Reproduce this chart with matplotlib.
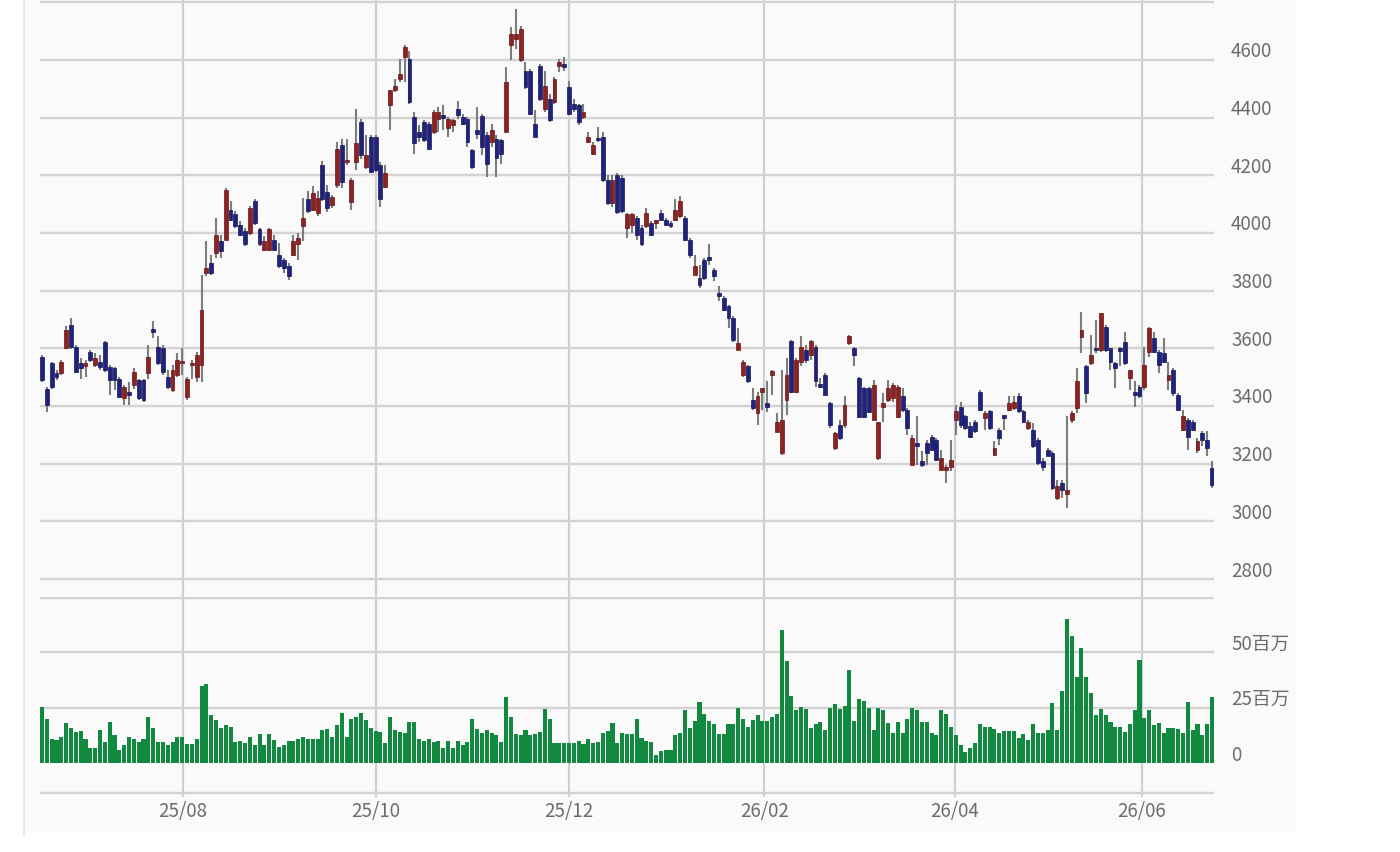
import matplotlib
matplotlib.use("Agg")
import matplotlib.pyplot as plt
from matplotlib.patches import Rectangle
from matplotlib.lines import Line2D
from matplotlib.transforms import offset_copy

plt.rcParams['font.family'] = ['Noto Sans CJK JP', 'DejaVu Sans']

# daily candles, oldest first (yen)
open_ = [3571, 3460, 3548, 3513, 3513, 3600, 3681, 3606, 3548, 3537,
         3588, 3542, 3553, 3623, 3536, 3530, 3495, 3426, 3449, 3472,
         3490, 3490, 3513, 3664, 3606, 3600, 3501, 3455, 3507, 3548,
         3431, 3542, 3501, 3542, 3861, 3896, 3930, 3971, 3977, 4081,
         4064, 4029, 4006, 4000, 4110, 4012, 3942, 3942, 3977, 3925,
         3907, 3884, 3925, 3960, 4023, 4116, 4081, 4070, 4234, 4142,
         4096, 4165, 4304, 4246, 4108, 4246, 4384, 4229, 4332, 4332,
         4234, 4159, 4442, 4494, 4534, 4609, 4603, 4402, 4350, 4384,
         4379, 4350, 4396, 4408, 4362, 4373, 4430, 4402, 4396, 4286,
         4356, 4407, 4338, 4315, 4327, 4321, 4350, 4650, 4673, 4598,
         4563, 4563, 4379, 4580, 4430, 4465, 4454, 4580, 4586, 4505,
         4448, 4442, 4402, 4315, 4275, 4327, 4332, 4183, 4102, 4200,
         4190, 4017, 4029, 4052, 4017, 4023, 4035, 4035, 4070, 4046,
         4035, 4046, 4058, 4052, 3977, 3855, 3844, 3907, 3913, 3873,
         3792, 3774, 3745, 3705, 3595, 3508, 3537, 3421, 3375, 3450,
         3409, 3508, 3311, 3236, 3421, 3624, 3450, 3554, 3594, 3577,
         3606, 3473, 3508, 3409, 3253, 3334, 3334, 3618, 3600, 3496,
         3461, 3461, 3352, 3218, 3398, 3421, 3427, 3363, 3433, 3386,
         3195, 3271, 3208, 3271, 3294, 3283, 3179, 3179, 3190, 3352,
         3398, 3364, 3329, 3346, 3450, 3358, 3381, 3231, 3317, 3369,
         3387, 3392, 3433, 3381, 3323, 3317, 3283, 3208, 3248, 3237,
         3081, 3133, 3093, 3352, 3392, 3640, 3537, 3548, 3600, 3594,
         3675, 3600, 3548, 3600, 3623, 3496, 3450, 3467, 3467, 3588,
         3635, 3588, 3583, 3490, 3525, 3438, 3318, 3352, 3346, 3248,
         3306, 3283, 3185]
high = [3577, 3466, 3553, 3524, 3559, 3676, 3705, 3612, 3565, 3559,
        3594, 3583, 3577, 3626, 3542, 3536, 3501, 3472, 3484, 3530,
        3495, 3495, 3612, 3693, 3641, 3612, 3524, 3542, 3583, 3600,
        3501, 3559, 3588, 3855, 3971, 3925, 4052, 3994, 4156, 4110,
        4075, 4040, 4017, 4093, 4116, 4017, 3988, 4017, 3994, 3965,
        3913, 3896, 3994, 4000, 4122, 4145, 4162, 4145, 4250, 4165,
        4131, 4315, 4327, 4327, 4189, 4431, 4396, 4338, 4338, 4338,
        4246, 4234, 4494, 4534, 4603, 4650, 4632, 4419, 4373, 4390,
        4384, 4425, 4436, 4442, 4402, 4396, 4459, 4413, 4402, 4292,
        4436, 4413, 4350, 4379, 4338, 4327, 4575, 4713, 4776, 4719,
        4592, 4569, 4425, 4586, 4563, 4482, 4540, 4603, 4609, 4528,
        4465, 4448, 4448, 4350, 4315, 4367, 4350, 4200, 4200, 4206,
        4200, 4070, 4070, 4058, 4029, 4087, 4040, 4046, 4081, 4052,
        4040, 4116, 4127, 4058, 3983, 3925, 3890, 3913, 3960, 3878,
        3815, 3780, 3751, 3711, 3670, 3560, 3542, 3461, 3450, 3461,
        3485, 3525, 3375, 3525, 3566, 3630, 3566, 3641, 3612, 3630,
        3612, 3496, 3514, 3415, 3311, 3352, 3433, 3647, 3606, 3502,
        3467, 3467, 3490, 3346, 3444, 3490, 3479, 3473, 3461, 3392,
        3300, 3364, 3243, 3283, 3300, 3289, 3248, 3196, 3283, 3404,
        3415, 3370, 3346, 3352, 3456, 3381, 3387, 3277, 3323, 3369,
        3433, 3433, 3444, 3387, 3352, 3340, 3289, 3220, 3254, 3243,
        3144, 3144, 3364, 3381, 3531, 3727, 3542, 3646, 3698, 3721,
        3681, 3600, 3554, 3606, 3658, 3525, 3485, 3473, 3606, 3675,
        3658, 3594, 3635, 3554, 3531, 3444, 3387, 3358, 3352, 3289,
        3312, 3312, 3208]
low = [3484, 3379, 3460, 3490, 3507, 3597, 3597, 3513, 3495, 3501,
       3553, 3536, 3524, 3519, 3437, 3455, 3426, 3402, 3402, 3460,
       3420, 3414, 3495, 3635, 3542, 3507, 3460, 3449, 3501, 3507,
       3420, 3495, 3484, 3484, 3850, 3855, 3913, 3913, 3977, 4040,
       4017, 3988, 3954, 3994, 4029, 3954, 3936, 3936, 3936, 3878,
       3861, 3838, 3919, 3907, 3971, 4070, 4075, 4058, 4110, 4073,
       4085, 4154, 4154, 4235, 4079, 4217, 4257, 4223, 4206, 4211,
       4090, 4154, 4356, 4488, 4523, 4523, 4448, 4275, 4315, 4315,
       4286, 4344, 4350, 4356, 4333, 4350, 4396, 4373, 4298, 4223,
       4327, 4269, 4194, 4298, 4194, 4240, 4350, 4598, 4638, 4592,
       4500, 4408, 4332, 4459, 4419, 4384, 4448, 4557, 4563, 4408,
       4419, 4373, 4396, 4310, 4269, 4315, 4177, 4096, 4090, 4067,
       4070, 3983, 4000, 3977, 3954, 4017, 3988, 4012, 4040, 4023,
       4017, 4040, 4052, 3971, 3913, 3855, 3809, 3838, 3890, 3832,
       3763, 3728, 3670, 3623, 3595, 3502, 3479, 3386, 3334, 3386,
       3380, 3438, 3311, 3230, 3369, 3444, 3444, 3537, 3548, 3560,
       3467, 3461, 3438, 3323, 3247, 3282, 3323, 3612, 3537, 3357,
       3357, 3375, 3352, 3212, 3346, 3415, 3415, 3357, 3380, 3300,
       3195, 3196, 3190, 3196, 3243, 3208, 3173, 3133, 3173, 3300,
       3323, 3317, 3289, 3306, 3381, 3317, 3317, 3231, 3266, 3318,
       3381, 3387, 3375, 3340, 3317, 3254, 3196, 3173, 3225, 3110,
       3075, 3081, 3046, 3340, 3375, 3583, 3410, 3542, 3583, 3588,
       3588, 3525, 3462, 3537, 3542, 3456, 3398, 3427, 3456, 3571,
       3583, 3514, 3548, 3456, 3433, 3381, 3312, 3248, 3312, 3237,
       3260, 3225, 3116]
close = [3490, 3405, 3466, 3501, 3553, 3664, 3606, 3519, 3530, 3548,
         3559, 3565, 3536, 3524, 3490, 3490, 3431, 3466, 3437, 3519,
         3426, 3420, 3571, 3658, 3548, 3519, 3466, 3524, 3559, 3553,
         3495, 3548, 3577, 3734, 3878, 3861, 3994, 3936, 4150, 4046,
         4023, 3994, 3960, 4087, 4035, 3960, 3971, 4012, 3942, 3884,
         3878, 3849, 3971, 3983, 4052, 4075, 4139, 4122, 4119, 4085,
         4125, 4292, 4177, 4252, 4183, 4310, 4269, 4269, 4211, 4217,
         4119, 4206, 4494, 4511, 4552, 4644, 4454, 4310, 4333, 4321,
         4292, 4419, 4419, 4400, 4396, 4390, 4408, 4379, 4315, 4229,
         4344, 4298, 4240, 4356, 4258, 4275, 4523, 4690, 4690, 4707,
         4505, 4413, 4332, 4465, 4511, 4390, 4534, 4592, 4575, 4413,
         4430, 4384, 4419, 4333, 4304, 4321, 4183, 4102, 4183, 4073,
         4075, 4064, 4064, 3994, 3960, 4070, 3994, 4046, 4046, 4029,
         4023, 4081, 4110, 3977, 3925, 3884, 3820, 3844, 3907, 3849,
         3780, 3733, 3705, 3629, 3618, 3554, 3485, 3392, 3433, 3461,
         3398, 3520, 3346, 3352, 3508, 3450, 3560, 3606, 3560, 3624,
         3485, 3467, 3438, 3334, 3305, 3288, 3404, 3641, 3577, 3363,
         3363, 3380, 3473, 3346, 3409, 3461, 3473, 3467, 3386, 3323,
         3288, 3260, 3196, 3237, 3248, 3214, 3220, 3190, 3214, 3381,
         3335, 3323, 3294, 3312, 3387, 3375, 3323, 3254, 3289, 3358,
         3410, 3415, 3381, 3346, 3346, 3260, 3202, 3190, 3225, 3116,
         3121, 3110, 3110, 3375, 3485, 3663, 3444, 3577, 3594, 3721,
         3594, 3554, 3531, 3589, 3548, 3525, 3438, 3433, 3542, 3669,
         3588, 3542, 3554, 3508, 3444, 3387, 3364, 3294, 3318, 3277,
         3283, 3254, 3127]

# daily volume, millions of shares
volume = [25.5, 20, 11, 10.5, 12, 18, 16, 14, 14.5, 11,
          7, 7, 15, 9.5, 18.5, 12.5, 5.8, 8, 12, 11,
          9.5, 11, 21, 16, 9.5, 9.5, 8, 9.5, 12, 12,
          8.8, 8.8, 11, 35, 35.5, 21.5, 19.5, 16, 17, 16.5,
          9.5, 10, 9, 12, 8, 13, 8, 13, 10.5, 7.5,
          8, 10, 10, 11, 12, 11, 11, 11, 15, 15.5,
          12, 17, 22.5, 12, 20, 21, 22.5, 19.5, 16, 14.5,
          14, 9, 21, 15, 14, 13.5, 18.5, 18.5, 11, 10,
          11, 9.5, 10, 7, 10, 7, 10, 8, 9.5, 20,
          15.5, 13.5, 15, 13.5, 12.5, 9.5, 30, 21, 13, 12.5,
          15, 12.5, 13, 14, 24.5, 20, 9, 9, 9, 9,
          9, 10, 8.5, 11, 9, 9.5, 13.5, 14.5, 18, 9,
          13.5, 13.3, 13, 20, 11.5, 10, 9.5, 3.5, 5.5,
          6, 6, 12.5, 13.5, 24, 16, 19, 27.5, 22, 19,
          17.5, 13, 13, 17.5, 17.5, 25, 20, 16.5, 19.5, 21.5,
          19, 19, 21, 22, 60, 46, 30.5, 24, 25.5, 24.5,
          16, 17.5, 18.5, 15, 25, 26.5, 24.5, 26, 42, 19,
          29, 28, 25, 15, 25, 24, 18, 13.5, 18.5, 13.5,
          20, 25, 24, 18.5, 18.5, 13.5, 12.5, 24, 22, 16.5,
          12.5, 8, 5, 7, 9, 17.5, 16.5, 16.5, 15.5, 13.5,
          14.5, 14.5, 14.5, 11.5, 13, 10.5, 17.5, 13.5, 13.5, 15,
          27, 15, 32.5, 65, 57.5, 39, 52, 39, 31.5, 21.5,
          24.5, 21.5, 18.5, 16.5, 16.5, 14, 17.5, 24, 46.5, 20.5,
          24, 17, 18, 13.5, 16, 16, 15.5, 13.5, 27.5, 15,
          17.5, 12.5, 17.5, 30]

price_levels = [2800, 3000, 3200, 3400, 3600, 3800, 4000, 4200, 4400, 4600, 4800]
price_labels = ['2800', '3000', '3200', '3400', '3600', '3800', '4000', '4200', '4400', '4600']
volume_levels = [0, 25, 50]
volume_labels = ['0', '25百万', '50百万']
month_labels = ['25/08', '25/10', '25/12', '26/02', '26/04', '26/06']
month_pos = [29.1, 69.1, 108.9, 149.4, 188.8, 227.5]

W, H = 1400, 853
n = len(close)
step = (1212 - 42) / (n - 1)
left_px = 42 - 0.5 * step
width_px = n * step

fig = plt.figure(figsize=(W / 100, H / 100), dpi=100)
fig.patch.set_facecolor('white')
# light panel behind the chart, with its faint left border
fig.patches.append(Rectangle((24 / W, 1 - 834 / H), (1296 - 24) / W, 834 / H,
                             transform=fig.transFigure, facecolor='#fafafa',
                             edgecolor='none', zorder=-5))
fig.lines.append(Line2D([24 / W, 24 / W], [1 - 836 / H, 1], transform=fig.transFigure,
                        color='#e3e3e3', lw=1.2, zorder=-4))

ax = fig.add_axes([left_px / W, 1 - 598 / H, width_px / W, 598 / H])
axv = fig.add_axes([left_px / W, 1 - 798 / H, width_px / W, 200 / H])

grid_c = '#d3d3d3'
vgrid_c = '#cbcfd6'
text_c = '#6c6c6c'

for a in (ax, axv):
    a.set_facecolor('none')
    for s in a.spines.values():
        s.set_visible(False)
    a.set_xticks([])
    a.set_yticks([])
    a.set_xlim(-0.5, n - 0.5)
    for m in month_pos:
        a.axvline(m, color=vgrid_c, lw=1.6, zorder=1)

# price panel
ax.set_ylim(2737.6, 4811)
for lv in price_levels:
    ax.axhline(lv, color=grid_c, lw=1.7, zorder=1)

xs = list(range(n))
ax.vlines(xs, low, high, colors='#7d7d7d', lw=1.5, zorder=2)
body_bottom = [min(o, c) for o, c in zip(open_, close)]
body_height = [max(abs(c - o), 8) for o, c in zip(open_, close)]
body_color = ['#8c2222' if c >= o else '#21227c' for o, c in zip(open_, close)]
edge_color = ['#661414' if c >= o else '#14155a' for o, c in zip(open_, close)]
ax.bar(xs, body_height, bottom=body_bottom, width=0.8, color=body_color,
       edgecolor=edge_color, linewidth=0.5, zorder=3)

label_x = (1231 - left_px) / width_px
tr = offset_copy(ax.get_yaxis_transform(), fig=fig, x=0, y=9, units='dots')
for lv, lab in zip(price_levels, price_labels):
    ax.text(label_x, lv, lab, transform=tr, ha='left', va='center',
            fontsize=13.5, color=text_c, clip_on=False)

# volume panel
axv.set_ylim(-15.3, 75)
for lv in [25, 50, 74.6, -13.5]:
    axv.axhline(lv, color=grid_c, lw=1.7, zorder=1)
axv.bar(xs, volume, width=0.84, color='#11893e', zorder=3)

trv = offset_copy(axv.get_yaxis_transform(), fig=fig, x=0, y=9, units='dots')
for lv, lab in zip(volume_levels, volume_labels):
    axv.text(label_x, lv, lab, transform=trv, ha='left', va='center',
             fontsize=13.5, color=text_c, clip_on=False)

for m, lab in zip(month_pos, month_labels):
    axv.text(m, -0.07, lab, transform=axv.get_xaxis_transform(), ha='center',
             va='center', fontsize=13.5, color=text_c, clip_on=False)

fig.savefig('out.png', dpi=100, facecolor='white')
